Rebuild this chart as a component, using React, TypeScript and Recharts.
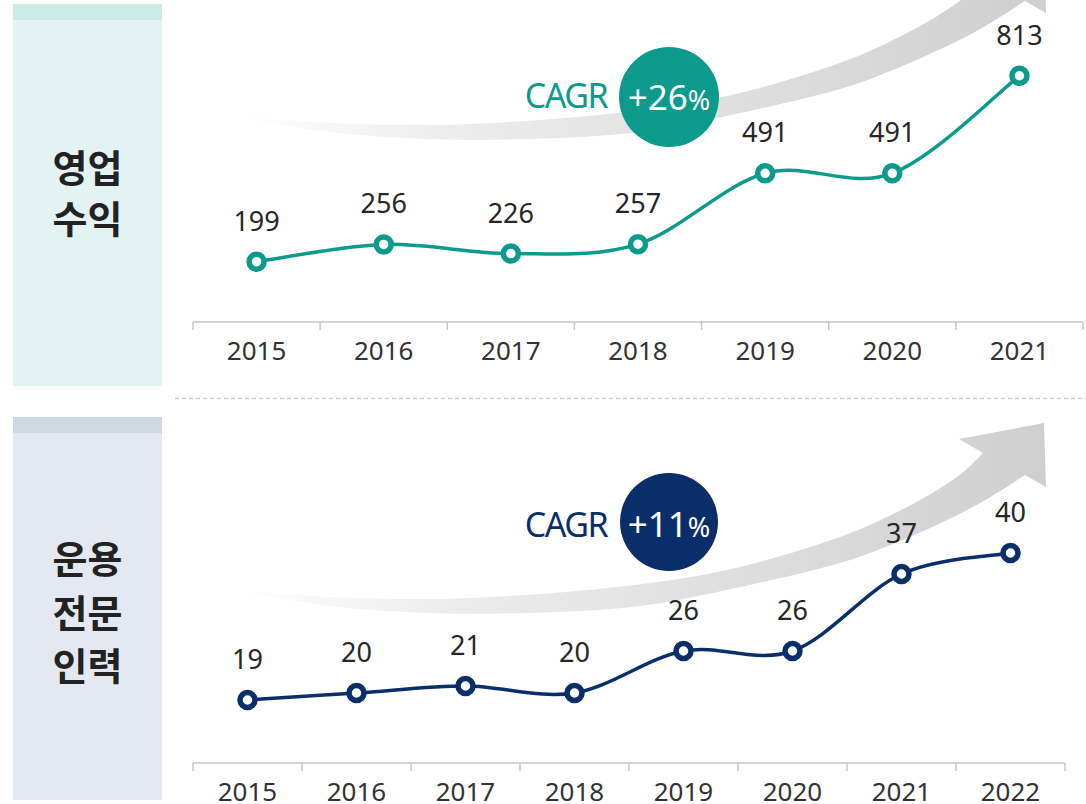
import React from 'react'
import { LineChart, Line, XAxis, YAxis } from 'recharts'

const revenueYears = ['2015', '2016', '2017', '2018', '2019', '2020', '2021']
const revenueValues = [199, 256, 226, 257, 491, 491, 813]
const staffYears = ['2015', '2016', '2017', '2018', '2019', '2020', '2021', '2022']
const staffValues = [19, 20, 21, 20, 26, 26, 37, 40]
const revenueCagr = '+26'
const staffCagr = '+11'

const TEAL = '#0b9a8c'
const NAVY = '#0a2e6a'
const FONT = '"Noto Sans", "Open Sans", sans-serif'
const KFONT = '"Noto Sans CJK KR", sans-serif'

// plot geometry
const TOP_BAND = 890 / revenueYears.length
const BOTTOM_BAND = 872 / staffYears.length

/** Excel-like smoothed line: Catmull-Rom with 1/6 control points */
const excelSmooth = (context: any) => {
    let pts: number[][] = []
    return {
        areaStart() {},
        areaEnd() {},
        lineStart() {
            pts = []
        },
        point(x: number, y: number) {
            pts.push([+x, +y])
        },
        lineEnd() {
            if (!pts.length) return
            context.moveTo(pts[0][0], pts[0][1])
            for (let i = 0; i < pts.length - 1; i++) {
                const p0 = pts[i - 1] || pts[i]
                const p1 = pts[i]
                const p2 = pts[i + 1]
                const p3 = pts[i + 2] || p2
                context.bezierCurveTo(
                    p1[0] + (p2[0] - p0[0]) / 6,
                    p1[1] + (p2[1] - p0[1]) / 6,
                    p2[0] - (p3[0] - p1[0]) / 6,
                    p2[1] - (p3[1] - p1[1]) / 6,
                    p2[0],
                    p2[1],
                )
            }
        },
    }
}

// decorative growth arrow outline (drawn for the lower panel, shifted for the upper)
const ARROW_UPPER = [[240, 591], [330, 597], [430, 599], [540, 594], [650, 583], [740, 567], [840, 537], [907, 507], [957, 477], [983, 453]]
const ARROW_HEAD = [[959, 439], [1044, 423], [1046, 487], [1025, 475]]
const ARROW_LOWER = [[1025, 475], [973, 507], [907, 538], [840, 563], [740, 587], [640, 606], [530, 613], [430, 613], [330, 606], [240, 591]]

const smoothSegs = (pts: number[][]) => {
    let d = ''
    for (let i = 0; i < pts.length - 1; i++) {
        const p0 = pts[i - 1] || pts[i]
        const p1 = pts[i]
        const p2 = pts[i + 1]
        const p3 = pts[i + 2] || p2
        d += ` C${p1[0] + (p2[0] - p0[0]) / 6},${p1[1] + (p2[1] - p0[1]) / 6} ${p2[0] - (p3[0] - p1[0]) / 6},${p2[1] - (p3[1] - p1[1]) / 6} ${p2[0]},${p2[1]}`
    }
    return d
}

const ARROW_D =
    `M${ARROW_UPPER[0][0]},${ARROW_UPPER[0][1]}` +
    smoothSegs(ARROW_UPPER) +
    ARROW_HEAD.map((p) => ` L${p[0]},${p[1]}`).join('') +
    smoothSegs(ARROW_LOWER) +
    ' Z'

const makeTick = (band: number, lastIndex: number) => (props: any) => {
    const { x, y, payload, index } = props
    return (
        <g>
            <line x1={x - band / 2} x2={x - band / 2} y1={y} y2={y + 8} stroke="#c6c6c6" strokeWidth={1.5} />
            {index === lastIndex && (
                <line x1={x + band / 2} x2={x + band / 2} y1={y} y2={y + 8} stroke="#c6c6c6" strokeWidth={1.5} />
            )}
            <text x={x} y={y + 38} textAnchor="middle" fontFamily={FONT} fontSize={26} fill="#333">
                {payload.value}
            </text>
        </g>
    )
}

const makeDot = (color: string) => (props: any) => {
    const { cx, cy, index, payload } = props
    return (
        <g key={`dot-${index}`}>
            <circle cx={cx} cy={cy} r={7.5} fill="#fff" stroke={color} strokeWidth={5.5} />
            <text x={cx} y={cy - 31} textAnchor="middle" fontFamily={FONT} fontSize={27} fill="#262626">
                {payload.value}
            </text>
        </g>
    )
}

const revenueData = revenueYears.map((year, i) => ({ year, value: revenueValues[i] }))
const staffData = staffYears.map((year, i) => ({ year, value: staffValues[i] }))

export default function App() {
    return (
        <div style={{ position: 'absolute', left: 0, top: 0, width: 1086, height: 804, background: '#fff', overflow: 'hidden' }}>
            {/* Left title boxes */}
            <div style={{ position: 'absolute', left: 13, top: 4, width: 149, height: 382, background: '#e3f3f3' }}>
                <div style={{ height: 16, background: '#cde9e8' }} />
                <div
                    style={{
                        position: 'absolute', left: 0, right: 0, top: 136, textAlign: 'center',
                        fontFamily: KFONT, fontWeight: 700, fontSize: 38, lineHeight: '51px', color: '#222',
                    }}
                >
                    영업<br />수익
                </div>
            </div>
            <div style={{ position: 'absolute', left: 13, top: 417, width: 149, height: 383, background: '#e4e8f0' }}>
                <div style={{ height: 16, background: '#cfd8e3' }} />
                <div
                    style={{
                        position: 'absolute', left: 0, right: 0, top: 113, textAlign: 'center',
                        fontFamily: KFONT, fontWeight: 700, fontSize: 38, lineHeight: '53.5px', color: '#222',
                    }}
                >
                    운용<br />전문<br />인력
                </div>
            </div>

            {/* Background: arrows + separator */}
            <svg width={1086} height={804} style={{ position: 'absolute', left: 0, top: 0 }}>
                <defs>
                    <linearGradient id="arrowGrad" gradientUnits="userSpaceOnUse" x1={240} y1={0} x2={1046} y2={0}>
                        <stop offset="0" stopColor="#ffffff" />
                        <stop offset="0.25" stopColor="#ededed" />
                        <stop offset="0.6" stopColor="#dfdfdf" />
                        <stop offset="1" stopColor="#cfcfcf" />
                    </linearGradient>
                </defs>
                <path d={ARROW_D} fill="url(#arrowGrad)" transform="translate(0,-474)" />
                <path d={ARROW_D} fill="url(#arrowGrad)" />
                <line x1={175} x2={1086} y1={398.5} y2={398.5} stroke="#cfcfcf" strokeWidth={1.5} strokeDasharray="4 3" />
            </svg>

            {/* Upper chart: 영업수익 */}
            <div style={{ position: 'absolute', left: 0, top: 0 }}>
                <LineChart width={1086} height={400} data={revenueData} margin={{ top: 49.4, right: 3, bottom: 0, left: 193 }}>
                    <XAxis
                        dataKey="year"
                        height={78}
                        interval={0}
                        padding={{ left: TOP_BAND / 2, right: TOP_BAND / 2 }}
                        axisLine={{ stroke: '#c6c6c6', strokeWidth: 1.5 }}
                        tickLine={false}
                        tickSize={0}
                        tickMargin={0}
                        tick={makeTick(TOP_BAND, revenueYears.length - 1)}
                    />
                    <YAxis hide domain={[0, 900]} />
                    <Line
                        dataKey="value"
                        type={excelSmooth as any}
                        stroke={TEAL}
                        strokeWidth={3.5}
                        dot={makeDot(TEAL)}
                        activeDot={false}
                        isAnimationActive={false}
                    />
                </LineChart>
            </div>

            {/* Lower chart: 운용전문인력 */}
            <div style={{ position: 'absolute', left: 0, top: 400 }}>
                <LineChart width={1086} height={404} data={staffData} margin={{ top: 83, right: 21, bottom: 0, left: 193 }}>
                    <XAxis
                        dataKey="year"
                        height={41}
                        interval={0}
                        padding={{ left: BOTTOM_BAND / 2, right: BOTTOM_BAND / 2 }}
                        axisLine={{ stroke: '#c6c6c6', strokeWidth: 1.5 }}
                        tickLine={false}
                        tickSize={0}
                        tickMargin={0}
                        tick={makeTick(BOTTOM_BAND, staffYears.length - 1)}
                    />
                    <YAxis hide domain={[10, 50]} />
                    <Line
                        dataKey="value"
                        type={excelSmooth as any}
                        stroke={NAVY}
                        strokeWidth={3.5}
                        dot={makeDot(NAVY)}
                        activeDot={false}
                        isAnimationActive={false}
                    />
                </LineChart>
            </div>

            {/* CAGR badges */}
            <svg width={1086} height={804} style={{ position: 'absolute', left: 0, top: 0 }}>
                <text x={566} y={108} textAnchor="middle" fontFamily={FONT} fontSize={34} letterSpacing={-1.5} fill={TEAL}>
                    CAGR
                </text>
                <circle cx={669} cy={97} r={50} fill={TEAL} />
                <text x={669} y={110} textAnchor="middle" fontFamily={FONT} fill="#fff">
                    <tspan fontSize={35}>{revenueCagr}</tspan>
                    <tspan fontSize={27}>%</tspan>
                </text>

                <text x={566} y={537} textAnchor="middle" fontFamily={FONT} fontSize={34} letterSpacing={-1.5} fill={NAVY}>
                    CAGR
                </text>
                <circle cx={669} cy={522} r={49} fill={NAVY} />
                <text x={669} y={537} textAnchor="middle" fontFamily={FONT} fill="#fff">
                    <tspan fontSize={35}>{staffCagr}</tspan>
                    <tspan fontSize={27}>%</tspan>
                </text>
            </svg>
        </div>
    )
}
